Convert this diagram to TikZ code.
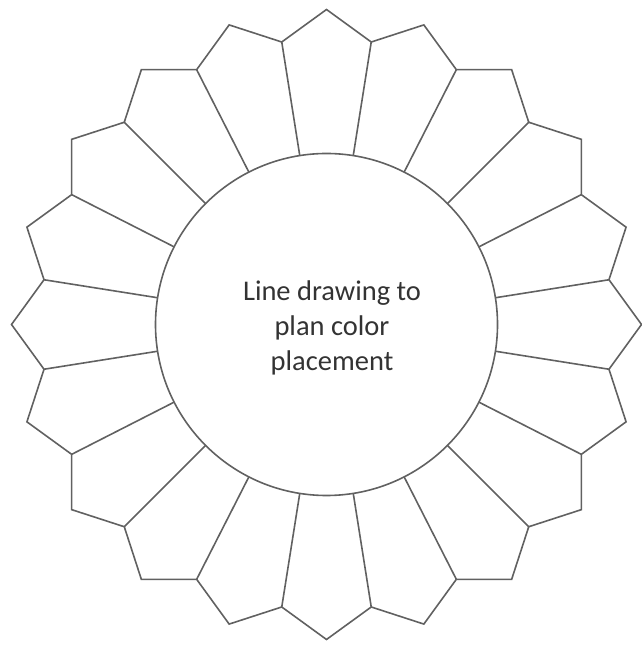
\documentclass[tikz,border=0pt]{standalone}
\usepackage{fontspec}
\setmainfont{Carlito}
\usetikzlibrary{calc}
\begin{document}
\begin{tikzpicture}[x=1pt,y=1pt,
  petal/.style={draw=black!62, line width=1.6pt, line join=miter},
  label/.style={text=black!80, font=\fontsize{28.5}{35}\selectfont, align=center}]
\useasboundingbox (0,0) rectangle (641,645);
\coordinate (c) at (326.5,320.5);
% inner circle
\draw[petal] (c) circle (171);
% radial seams
\foreach \k in {0,...,19}{
  \draw[petal] ($(c)+({9+18*\k}:171)$) -- ($(c)+({9+18*\k}:286)$);
}
% outer zigzag edge
\draw[petal] ($(c)+(9:286)$)
  \foreach \k in {1,...,20}{ -- ($(c)+({18*\k}:315)$) -- ($(c)+({9+18*\k}:286)$) } -- cycle;
\node[label] (t) at (332,317) {Line drawing to\\plan color\\placement};
\end{tikzpicture}
\end{document}
